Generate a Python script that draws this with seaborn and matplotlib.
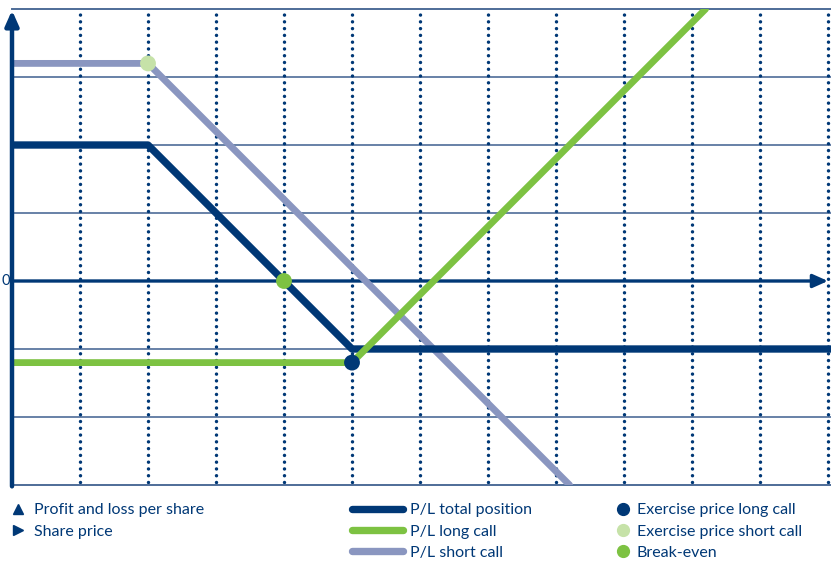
import matplotlib
matplotlib.use("Agg")
import matplotlib.pyplot as plt
import seaborn as sns
import pandas as pd
from matplotlib.lines import Line2D

# ---- data (share price units on x, profit/loss per share on y)
short_x = [0, 2, 8.2]
short_y = [3.2, 3.2, -3.0]
long_x = [0, 5, 10.2]
long_y = [-1.2, -1.2, 4.0]
total_x = [0, 2, 5, 12.1]
total_y = [2.0, 2.0, -1.0, -1.0]

point_names = ["Exercise price long call", "Exercise price short call", "Break-even"]
point_x = [5, 2, 4]
point_y = [-1.2, 3.2, 0]

grid_x = [1, 2, 3, 4, 5, 6, 7, 8, 9, 10, 11, 12]
grid_y = [-2, -1, 1, 2, 3]

navy = "#003876"
green = "#7DC242"
grey = "#8A96C0"
light_green = "#C6E2A8"
gridc = "#4E6C98"

sns.set_style("white")
plt.rcParams["font.family"] = ["Lato", "DejaVu Sans"]

fig = plt.figure(figsize=(8.31, 5.61), dpi=100)
ax = fig.add_axes([12 / 831, 76 / 561, 819 / 831, 476 / 561])
ax.set_xlim(0, 819 / 68)
ax.set_ylim(-3, 4)

# grid
for gy in grid_y:
    ax.axhline(gy, color=gridc, lw=1.2, zorder=1)
ax.vlines(grid_x, -2.95, 3.95, colors=navy, lw=2.5,
          linestyles=[(0, (0.001, 1.95))], capstyle="round", zorder=1)

# axes arrows
ax.annotate("", xy=(12.0, 0), xytext=(0, 0),
            arrowprops=dict(arrowstyle="-|>,head_length=0.9,head_width=0.4",
                            color=navy, lw=2.4, shrinkA=0, shrinkB=0), zorder=2)
ax.annotate("", xy=(0, 3.98), xytext=(0, -3.02),
            arrowprops=dict(arrowstyle="-|>,head_length=0.9,head_width=0.4",
                            color=navy, lw=3.2, shrinkA=0, shrinkB=0),
            annotation_clip=False, zorder=6)
fig.text(1 / 831, 1 - 281 / 561, "0", ha="left", va="center", color=navy, fontsize=10.5)

# pay-off lines
sns.lineplot(x=short_x, y=short_y, sort=False, color=grey, lw=4.9, ax=ax, zorder=3)
sns.lineplot(x=long_x, y=long_y, sort=False, color=green, lw=4.9, ax=ax, zorder=4)
sns.lineplot(x=total_x, y=total_y, sort=False, color=navy, lw=5.3, ax=ax, zorder=3.5)

pts = pd.DataFrame({"name": point_names, "x": point_x, "y": point_y})
sns.scatterplot(data=pts, x="x", y="y", hue="name",
                palette=[navy, light_green, green], s=130, linewidth=0,
                legend=False, ax=ax, zorder=5)

for side in ["top", "bottom"]:
    ax.spines[side].set_color(gridc)
    ax.spines[side].set_linewidth(1.4)
ax.spines["right"].set_visible(False)
ax.spines["left"].set_visible(False)
ax.set_xticks([])
ax.set_yticks([])
ax.set_xlabel("")
ax.set_ylabel("")

# legends
kw = dict(frameon=False, fontsize=11.5, labelcolor=navy, labelspacing=0.45,
          borderpad=0, borderaxespad=0, loc="upper left")
top = 1 - 503 / 561
h1 = [Line2D([], [], marker="^", ls="none", color=navy, ms=7),
      Line2D([], [], marker=">", ls="none", color=navy, ms=7)]
fig.legend(h1, ["Profit and loss per share", "Share price"],
           bbox_to_anchor=(12 / 831, top), handlelength=0.8,
           handletextpad=0.55, **kw)
h2 = [Line2D([], [], color=c, lw=5.3, solid_capstyle="round") for c in [navy, green, grey]]
fig.legend(h2, ["P/L total position", "P/L long call", "P/L short call"],
           bbox_to_anchor=(352 / 831, top), handlelength=3.2,
           handletextpad=0.45, **kw)
h3 = [Line2D([], [], marker="o", ls="none", color=c, ms=8.5) for c in [navy, light_green, green]]
fig.legend(h3, point_names,
           bbox_to_anchor=(617 / 831, top), handlelength=0.8,
           handletextpad=0.45, **kw)

fig.savefig("out.png", dpi=100)
